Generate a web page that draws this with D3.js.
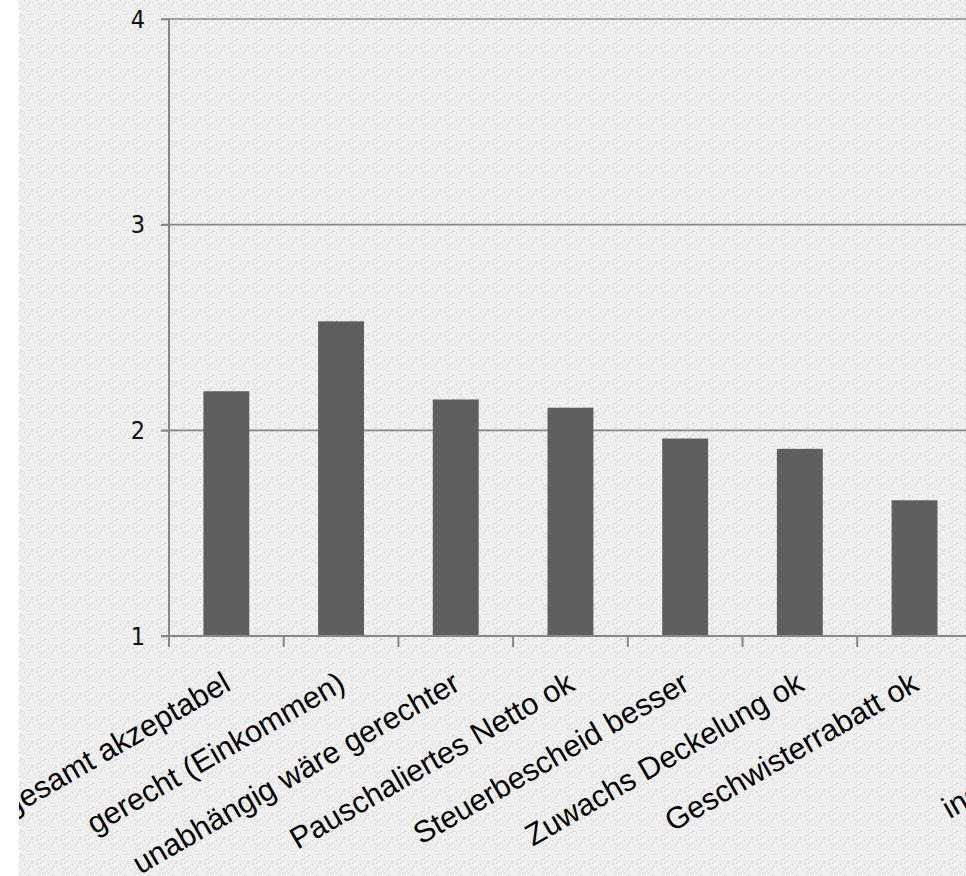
<!DOCTYPE html>
<html>
<head>
<meta charset="utf-8">
<script src="https://cdn.jsdelivr.net/npm/d3@7"></script>
<style>
  html, body { margin: 0; padding: 0; background: #ffffff; overflow: hidden; }
  svg { display: block; }
</style>
</head>
<body>
<script>
// ---- data ----
const categories = [
  "insgesamt akzeptabel",
  "gerecht (Einkommen)",
  "unabhängig wäre gerechter",
  "Pauschaliertes Netto ok",
  "Steuerbescheid besser",
  "Zuwachs Deckelung ok",
  "Geschwisterrabatt ok",
  "Kita-\nPreis\ninsgesamt"
];
const values = [2.19, 2.53, 2.15, 2.11, 1.96, 1.91, 1.66, 1.80];
const yTicks = [1, 2, 3, 4];

// ---- layout ----
const W = 966, H = 876;
const plotLeft = 169, plotTop = 19, plotBottom = 636;
const step = 114.7;

const svg = d3.select("body").append("svg").attr("width", W).attr("height", H);
const defs = svg.append("defs");

// linen-like texture (deterministic hash pattern)
const P = 24;
const pat = defs.append("pattern").attr("id", "linen")
  .attr("patternUnits", "userSpaceOnUse").attr("width", P).attr("height", P);
pat.append("rect").attr("width", P).attr("height", P).attr("fill", "#eeeeee");
const specks = [];
for (let i = 0; i < P; i++) {
  for (let j = 0; j < P; j++) {
    const h = Math.abs(((i * 73856093) ^ (j * 19349663) ^ (i * j * 83492791)) % 100);
    if (h < 10) specks.push({i, j, c: "#dedede", w: (h % 2) ? 2 : 1, hgt: (h % 2) ? 1 : 2});
    else if (h > 86) specks.push({i, j, c: "#f9f9f9", w: 1, hgt: 1});
  }
}
pat.selectAll("rect.s").data(specks).join("rect").attr("class", "s")
  .attr("x", d => d.i).attr("y", d => d.j)
  .attr("width", d => d.w).attr("height", d => d.hgt).attr("fill", d => d.c);

defs.append("clipPath").attr("id", "clip")
  .append("rect").attr("x", 19).attr("y", 0).attr("width", W - 19).attr("height", H);

svg.append("rect").attr("x", 19).attr("y", 0).attr("width", W - 19).attr("height", H)
  .attr("fill", "url(#linen)");

const g = svg.append("g").attr("clip-path", "url(#clip)");

const y = d3.scaleLinear().domain([1, 4]).range([plotBottom, plotTop]);
const x = d3.scaleBand().domain(categories)
  .range([plotLeft, plotLeft + step * categories.length])
  .paddingInner(0.6).paddingOuter(0.3);
const xRight = plotLeft + step * categories.length + 20;

// gridlines
g.append("g").selectAll("line").data(yTicks.filter(t => t > 1)).join("line")
  .attr("x1", plotLeft - 8).attr("x2", xRight)
  .attr("y1", d => y(d)).attr("y2", d => y(d))
  .attr("stroke", "#878787").attr("stroke-width", 1.6);

// bars
g.append("g").selectAll("rect").data(categories).join("rect")
  .attr("x", d => x(d))
  .attr("y", (d, i) => y(values[i]))
  .attr("width", x.bandwidth())
  .attr("height", (d, i) => y(1) - y(values[i]))
  .attr("fill", "#5f5f5f");

// y axis line
g.append("line").attr("x1", plotLeft).attr("x2", plotLeft)
  .attr("y1", plotTop).attr("y2", plotBottom + 11)
  .attr("stroke", "#878787").attr("stroke-width", 2);

// x axis line
g.append("line").attr("x1", plotLeft - 8).attr("x2", xRight)
  .attr("y1", y(1)).attr("y2", y(1))
  .attr("stroke", "#878787").attr("stroke-width", 2);

// x boundary ticks
const bounds = d3.range(categories.length + 1).map(i => plotLeft + i * x.step());
g.append("g").selectAll("line").data(bounds).join("line")
  .attr("x1", d => d).attr("x2", d => d)
  .attr("y1", y(1)).attr("y2", y(1) + 11)
  .attr("stroke", "#878787").attr("stroke-width", 2);

// y axis labels
const yAxis = g.append("g").attr("transform", `translate(${plotLeft},0)`)
  .call(d3.axisLeft(y).tickValues(yTicks).tickSize(8).tickPadding(16).tickFormat(d3.format("d")));
yAxis.select(".domain").remove();
yAxis.selectAll(".tick line").attr("stroke", "#878787").attr("stroke-width", 1.6);
yAxis.selectAll("text")
  .attr("font-family", "'Liberation Sans Narrow', 'DejaVu Sans Condensed', sans-serif")
  .attr("font-size", 25).attr("fill", "#111");

// x axis labels
const fs = 30.5, lh = 35;
const labels = g.append("g").selectAll("text").data(categories).join("text")
  .attr("transform", d => `translate(${x(d) + x.bandwidth() / 2 + 6},689) rotate(-30)`)
  .attr("text-anchor", "end")
  .attr("font-family", "'Liberation Sans', Arial, sans-serif")
  .attr("font-size", fs).attr("fill", "#000");
labels.each(function(d) {
  const lines = d.split("\n");
  d3.select(this).selectAll("tspan").data(lines).join("tspan")
    .attr("x", 0).attr("y", (l, i) => i * lh).text(l => l);
});
</script>
</body>
</html>
